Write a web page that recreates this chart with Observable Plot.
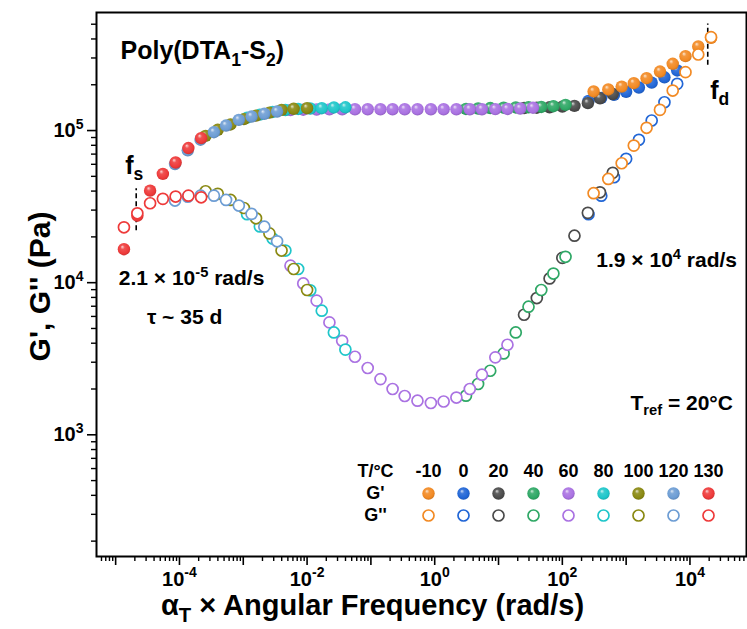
<!DOCTYPE html>
<html><head><meta charset="utf-8">
<script src="https://cdn.jsdelivr.net/npm/d3@7"></script>
<script src="https://cdn.jsdelivr.net/npm/@observablehq/plot@0.6"></script>
<style>
body{margin:0;background:#fff;}
#wrap{position:relative;width:747px;height:629px;overflow:hidden;}
#legend{position:absolute;left:350px;top:430px;}
</style></head><body><div id="wrap"></div>
<script>
// temperatures (°C) and colours
const temps = [-10, 0, 20, 40, 60, 80, 100, 120, 130];
const colors = ["#F28A24", "#2166D6", "#4B4B4B", "#2FA866", "#AA72E2", "#1FC6CA", "#8A8912", "#6D9DD4", "#EE3A3A"];

// log10(aT*omega), log10 G', log10 G'' for each temperature
const lw_m10 = [2.49, 2.72, 2.93, 3.12, 3.32, 3.53, 3.73, 3.93, 4.13, 4.33];
const gp_m10 = [5.257, 5.270, 5.289, 5.311, 5.344, 5.388, 5.439, 5.489, 5.553, 5.61];
const gpp_m10 = [4.588, 4.682, 4.785, 4.901, 5.018, 5.136, 5.263, 5.384, 5.500, 5.614];

const lw_0 = [2.41, 2.61, 2.81, 3.00, 3.20, 3.40, 3.60, 3.80];
const gp_0 = [5.195, 5.215, 5.235, 5.255, 5.283, 5.315, 5.35, 5.395];
const gpp_0 = [4.45, 4.572, 4.693, 4.814, 4.939, 5.066, 5.186, 5.307];

const lw_20 = [1.40, 1.60, 1.80, 2.00, 2.19, 2.40, 2.59, 2.79];
const gp_20 = [5.148, 5.15, 5.153, 5.157, 5.162, 5.18, 5.212, 5.24];
const gpp_20 = [3.789, 3.899, 4.028, 4.163, 4.309, 4.459, 4.594, 4.722];

const lw_40 = [0.49, 0.68, 0.87, 1.08, 1.27, 1.47, 1.67, 1.86, 2.05];
const gp_40 = [5.142, 5.145, 5.148, 5.15, 5.152, 5.153, 5.155, 5.16, 5.169];
const gpp_40 = [3.257, 3.334, 3.421, 3.535, 3.673, 3.842, 3.952, 4.06, 4.17];

const lw_60 = [-2.26, -2.06, -1.85, -1.65, -1.45, -1.25, -1.05, -0.85, -0.66, -0.47, -0.27, -0.06, 0.14, 0.34, 0.55, 0.74, 0.95, 1.14, 1.34, 1.54];
const gp_60 = [5.135, 5.137, 5.138, 5.139, 5.14, 5.14, 5.14, 5.14, 5.14, 5.14, 5.14, 5.14, 5.14, 5.14, 5.14, 5.14, 5.141, 5.142, 5.145, 5.15];
const gpp_60 = [4.112, 3.995, 3.882, 3.739, 3.618, 3.513, 3.439, 3.366, 3.301, 3.255, 3.224, 3.209, 3.219, 3.245, 3.301, 3.395, 3.509, 3.592, null, null];

const lw_80 = [-2.94, -2.74, -2.54, -2.34, -2.14, -1.95, -1.77, -1.58, -1.40];
const gp_80 = [5.085, 5.105, 5.122, 5.135, 5.142, 5.145, 5.147, 5.152, 5.153];
const gpp_80 = [4.45, 4.37, 4.29, 4.211, 4.09, 3.95, 3.816, 3.673, 3.56];

const lw_100 = [-3.59, -3.40, -3.20, -2.99, -2.80, -2.59, -2.40, -2.21, -2.00];
const gp_100 = [4.965, 5.005, 5.04, 5.075, 5.098, 5.118, 5.136, 5.143, 5.147];
const gpp_100 = [4.601, 4.584, 4.544, 4.491, 4.423, 4.324, 4.211, 4.090, 3.952];

const lw_120 = [-4.07, -3.87, -3.67, -3.46, -3.27, -3.07, -2.87, -2.67, -2.47];
const gp_120 = [4.78, 4.87, 4.94, 4.989, 5.033, 5.07, 5.092, 5.11, 5.125];
const gpp_120 = [4.54, 4.565, 4.572, 4.572, 4.544, 4.507, 4.452, 4.368, 4.272];

const lw_130 = [-4.87, -4.66, -4.46, -4.26, -4.06, -3.86, -3.66];
const gp_130 = [4.22, 4.44, 4.605, 4.715, 4.79, 4.885, 4.95];
const gpp_130 = [4.364, 4.456, 4.522, 4.551, 4.566, 4.572, 4.561];

// annotations
const fS = 2.1e-5, fD = 1.9e4;
const fSspan = [10 ** 4.342, 10 ** 4.618];
const fDspan = [10 ** 5.43, 10 ** 5.70];

const seriesList = [
  [-10, lw_m10, gp_m10, gpp_m10], [0, lw_0, gp_0, gpp_0], [20, lw_20, gp_20, gpp_20],
  [40, lw_40, gp_40, gpp_40], [60, lw_60, gp_60, gpp_60], [80, lw_80, gp_80, gpp_80],
  [100, lw_100, gp_100, gpp_100], [120, lw_120, gp_120, gpp_120], [130, lw_130, gp_130, gpp_130]
];
const drawOrder = [0, 20, -10, 40, 60, 80, 100, 120, 130];
function rowsFor(T) {
  const s = seriesList.find(d => d[0] === T);
  return s[1].map((w, i) => ({T, w: 10 ** w, gp: s[2][i] == null ? null : 10 ** s[2][i], gpp: s[3][i] == null ? null : 10 ** s[3][i]}));
}
const ci = T => temps.indexOf(T);

const xDomain = [10 ** -5.30, 10 ** 4.886];
const yDomain = [10 ** 2.2, 10 ** 5.776];
const inX = v => v >= xDomain[0] && v <= xDomain[1];
const inY = v => v >= yDomain[0] && v <= yDomain[1];
const decs = d3.range(-7, 8).map(e => 10 ** e);
const minors = decs.flatMap(d => d3.range(2, 10).map(k => k * d));
const xMajor = decs.filter(inX), xMinor = minors.filter(inX);
const yMajor = decs.filter(inY), yMinor = minors.filter(inY);
const expFmt = d => "10^{" + Math.round(Math.log10(d)) + "}";

const font = "'Liberation Sans', Arial, Helvetica, sans-serif";

const marks = [
  Plot.axisX(xMajor, {tickSize: 9, strokeWidth: 1.6, tickPadding: 6, fontSize: 20, fontWeight: "bold",
    tickFormat: d => Math.round(Math.log10(d)) % 2 === 0 ? expFmt(d) : "", label: null}),
  Plot.axisX(xMinor, {tickSize: 5, strokeWidth: 1.4, tickFormat: () => "", label: null}),
  Plot.axisY(yMajor, {tickSize: 9, strokeWidth: 1.6, tickPadding: 4, fontSize: 20, fontWeight: "bold",
    tickFormat: expFmt, label: null}),
  Plot.axisY(yMinor, {tickSize: 5, strokeWidth: 1.4, tickFormat: () => "", label: null}),
  Plot.frame({stroke: "black", strokeWidth: 2}),
  Plot.text(["α_{T} × Angular Frequency (rad/s)"], {frameAnchor: "bottom", dx: -49, dy: 58, fontSize: 29, fontWeight: "bold"}),
  Plot.text(["G', G'' (Pa)"], {frameAnchor: "left", textAnchor: "middle", dx: -56, dy: 2, rotate: -90, fontSize: 30, fontWeight: "bold"}),
  Plot.ruleX([fS], {y1: fSspan[0], y2: fSspan[1], stroke: "black", strokeWidth: 1.6, strokeDasharray: "5,3"}),
  Plot.ruleX([fD], {y1: fDspan[0], y2: fDspan[1], stroke: "black", strokeWidth: 1.6, strokeDasharray: "5,3"})
];
for (const T of drawOrder) {
  marks.push(Plot.dot(rowsFor(T).filter(d => d.gp != null), {x: "w", y: "gp", r: 6.2, fill: `url(#sph${ci(T)})`, stroke: "none"}));
}
for (const T of drawOrder) {
  marks.push(Plot.dot(rowsFor(T).filter(d => d.gpp != null), {x: "w", y: "gpp", r: 5.5, fill: "white", stroke: colors[ci(T)], strokeWidth: 1.7}));
}
marks.push(
  Plot.text(["Poly(DTA_{1}-S_{2})"], {frameAnchor: "top-left", dx: 24, dy: 29, textAnchor: "start", fontSize: 25, fontWeight: "bold"}),
  Plot.text(["f_{s}"], {x: fS, y: 10 ** 4.77, dx: -2, fontSize: 25, fontWeight: "bold"}),
  Plot.text(["f_{d}"], {x: fD, y: 10 ** 5.263, dx: 12, fontSize: 25, fontWeight: "bold"}),
  Plot.text(["2.1 × 10^{-5} rad/s"], {x: 10 ** -3.81, y: 10 ** 4.026, fontSize: 21, fontWeight: "bold"}),
  Plot.text(["τ ~ 35 d"], {x: 10 ** -3.92, y: 10 ** 3.77, fontSize: 21, fontWeight: "bold"}),
  Plot.text(["1.9 × 10^{4} rad/s"], {x: 10 ** 3.635, y: 10 ** 4.145, fontSize: 21, fontWeight: "bold"}),
  Plot.text(["T_{ref} = 20°C"], {x: 10 ** 3.87, y: 10 ** 3.21, fontSize: 21, fontWeight: "bold"})
);

const svg = Plot.plot({
  width: 747, height: 629,
  marginLeft: 96, marginRight: 1, marginTop: 12, marginBottom: 73,
  x: {type: "log", domain: xDomain},
  y: {type: "log", domain: yDomain},
  style: {fontFamily: font, color: "black", background: "white"},
  marks
});
const wrap = document.getElementById("wrap");
wrap.append(svg);

// sphere gradients for the filled G' symbols
const defs = d3.select(svg).insert("defs", ":first-child");
colors.forEach((c, i) => {
  const g = defs.append("radialGradient").attr("id", "sph" + i)
    .attr("cx", "48%").attr("cy", "45%").attr("r", "58%").attr("fx", "36%").attr("fy", "30%");
  g.append("stop").attr("offset", "0%").attr("stop-color", d3.interpolateRgb(c, "#fff")(0.8));
  g.append("stop").attr("offset", "30%").attr("stop-color", d3.interpolateRgb(c, "#fff")(0.12));
  g.append("stop").attr("offset", "75%").attr("stop-color", c);
  g.append("stop").attr("offset", "100%").attr("stop-color", d3.color(c).darker(0.5).formatHex());
});

// legend (T/°C, G', G'')
const legend = Plot.plot({
  width: 395, height: 110, marginLeft: 25, marginRight: 0, marginTop: 0, marginBottom: 0,
  x: {type: "point", domain: temps, range: [59, 376], axis: null},
  y: {type: "point", domain: ["T", "Gp", "Gpp"], range: [29, 96], axis: null},
  style: {fontFamily: font, color: "black", background: "transparent"},
  marks: [
    Plot.text(temps, {x: d => d, y: () => "T", text: d => String(d), fontSize: 18, fontWeight: "bold"}),
    Plot.text(["T/°C", "G'", "G''"], {y: ["T", "Gp", "Gpp"], frameAnchor: "left", textAnchor: "middle", fontSize: 18, fontWeight: "bold"}),
    ...temps.map((t, i) => Plot.dot([t], {x: d => d, y: () => "Gp", r: 6.2, fill: `url(#sph${i})`})),
    ...temps.map((t, i) => Plot.dot([t], {x: d => d, y: () => "Gpp", r: 5.5, fill: "white", stroke: colors[i], strokeWidth: 1.7}))
  ]
});
legend.id = "legend";
wrap.append(legend);

// turn _{..} and ^{..} into sub/superscript tspans
function richify(root) {
  root.querySelectorAll("text").forEach(t => {
    if (t.querySelector("tspan")) return;
    const s = t.textContent;
    if (!/[_^]\{/.test(s)) return;
    const fs = parseFloat(getComputedStyle(t).fontSize) || 16;
    t.textContent = "";
    const re = /([_^])\{([^}]*)\}/g;
    let last = 0, m, shift = 0;
    const add = (txt, dy, small) => {
      const ts = document.createElementNS("http://www.w3.org/2000/svg", "tspan");
      ts.textContent = txt;
      if (dy) ts.setAttribute("dy", dy);
      if (small) ts.setAttribute("font-size", (fs * 0.7).toFixed(1));
      t.appendChild(ts);
    };
    while ((m = re.exec(s))) {
      if (m.index > last) { add(s.slice(last, m.index), shift ? -shift : 0, false); shift = 0; }
      const d = m[1] === "^" ? -0.42 * fs : 0.26 * fs;
      add(m[2], d, true);
      shift = d;
      last = re.lastIndex;
    }
    if (last < s.length) add(s.slice(last), shift ? -shift : 0, false);
  });
}
richify(svg);
richify(legend);
</script></body></html>
